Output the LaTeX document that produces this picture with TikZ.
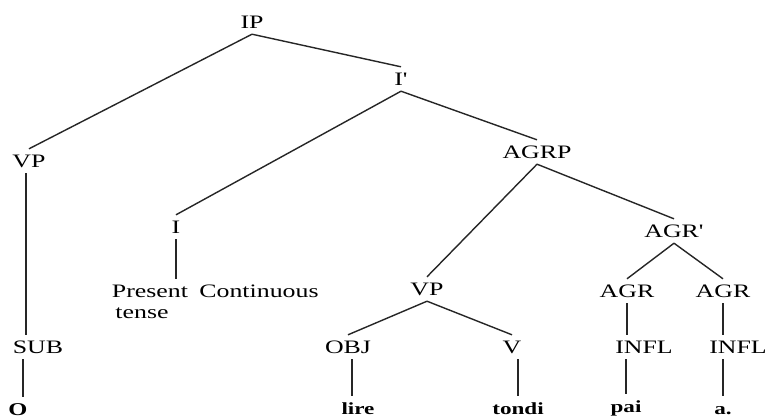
\documentclass[tikz,border=0pt]{standalone}
\usepackage{fontspec}
\setmainfont{Liberation Serif}
\usepackage{graphicx}
\usetikzlibrary{calc}
\newcommand{\SX}[1]{\scalebox{1.36}[1]{#1}}
\tikzset{
 lab/.style={inner xsep=0pt, inner ysep=6pt, text height=12pt, text depth=0pt, anchor=base, font=\fontsize{19}{21}\selectfont},
 word/.style={lab, font=\fontsize{17}{19}\selectfont\bfseries},
 edge/.style={draw=black!85, line width=1.4pt}
}
\begin{document}
\begin{tikzpicture}[x=1pt,y=-1pt]
\useasboundingbox[fill=white] (0,0) rectangle (770,418);
% labels
\node[lab] (ip) at (252,28) {\SX{IP}};
\node[lab] (ibar) at (401,85) {\SX{I\textquotesingle}};
\node[lab] (vpa) at (29,167) {\SX{VP}};
\node[lab] (agrp) at (537,158) {\SX{AGRP}};
\node[lab] (i) at (176,233) {\SX{I}};
\node[lab] (present) at (150,297) {\SX{Present}};
\node[lab] (tense) at (142,318) {\SX{tense}};
\node[lab] (cont) at (259,297) {\SX{Continuous}};
\node[lab] (sub) at (38,353) {\SX{SUB}};
\node[word, font=\fontsize{18}{20}\selectfont\bfseries] (o) at (18,415) {\SX{O}};
\node[lab] (vpb) at (427,295) {\SX{VP}};
\node[lab] (obj) at (348,353) {\SX{OBJ}};
\node[word] (lire) at (358,414) {\SX{lire}};
\node[lab] (v) at (512,353) {\SX{V}};
\node[word] (tondi) at (518,414) {\SX{tondi}};
\node[lab] (agrbar) at (674,237) {\SX{AGR\textquotesingle}};
\node[lab] (agra) at (627,297) {\SX{AGR}};
\node[lab] (agrb) at (723,297) {\SX{AGR}};
\node[lab] (infla) at (644,353) {\SX{INFL}};
\node[lab] (inflb) at (738,353) {\SX{INFL}};
\node[word] (pai) at (626,412) {\SX{pai}};
\node[word] (adot) at (723,414) {\SX{a.}};
% edges
\draw[edge] (ip.south) -- (vpa.north);
\draw[edge] (ip.south) -- (ibar.north);
\draw[edge] (ibar.south) -- (i.north);
\draw[edge] (ibar.south) -- (agrp.north);
\draw[edge] (agrp.south) -- (vpb.north);
\draw[edge] (agrp.south) -- (agrbar.north);
\draw[edge] ([xshift=-3pt]vpa.south) -- ([xshift=-3pt]vpa.south |- sub.north);
\draw[edge] ([xshift=5pt]o.north |- sub.south) -- ([xshift=5pt]o.north);
\draw[edge] (i.south) -- (i.south |- present.north);
\draw[edge] (vpb.south) -- (obj.north);
\draw[edge] (vpb.south) -- (v.north);
\draw[edge] ([xshift=4pt]obj.south) -- ([xshift=4pt]obj.south |- lire.north);
\draw[edge] (tondi.north |- v.south) -- (tondi.north);
\draw[edge] (agrbar.south) -- (agra.north);
\draw[edge] (agrbar.south) -- (agrb.north);
\draw[edge] (agra.south) -- (agra.south |- infla.north);
\draw[edge] (agrb.south) -- (agrb.south |- inflb.north);
\draw[edge] (pai.north |- infla.south) -- (pai.north);
\draw[edge] (adot.north |- inflb.south) -- (adot.north);
\end{tikzpicture}
\end{document}
